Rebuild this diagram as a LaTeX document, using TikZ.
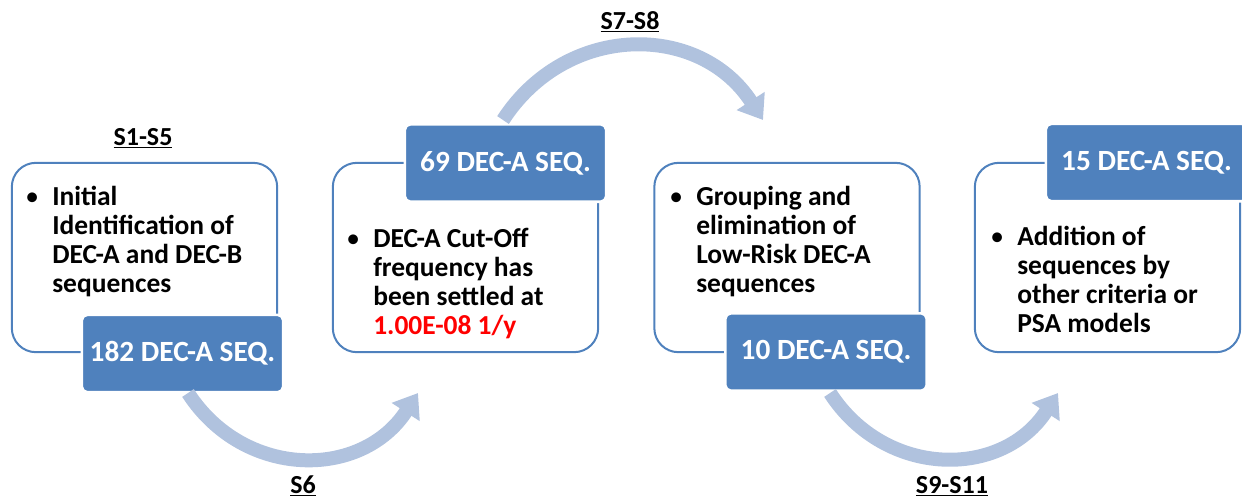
\documentclass[tikz,border=0pt]{standalone}
\usepackage{fontspec}
\setmainfont{Carlito}
\usetikzlibrary{arrows.meta}
\definecolor{stepblue}{RGB}{79,129,189}
\definecolor{arcblue}{RGB}{176,194,222}
\definecolor{valred}{RGB}{255,0,0}
\newcommand{\bul}{\makebox[0pt][r]{\mdseries\textbullet\hspace{10pt}}}
\tikzset{
  frame/.style={draw=stepblue, line width=1.5pt, rounded corners=18pt,
    minimum width=199pt, minimum height=142pt, inner sep=0pt},
  count/.style={fill=stepblue, draw=white, line width=2pt, rounded corners=4pt,
    minimum width=151pt, minimum height=58pt, inner sep=0pt, text=white,
    font=\fontsize{22}{26}\selectfont\bfseries},
  bodytext/.style={anchor=north west, align=left, inner sep=0pt,
    font=\fontsize{20.6}{21.75}\selectfont\bfseries},
  heading/.style={anchor=base, inner sep=0pt, font=\fontsize{19.5}{22}\selectfont\bfseries},
  flow/.style={draw=arcblue, line width=10.5pt, -{Triangle[width=24pt, length=17pt]}}
}
\begin{document}
\begin{tikzpicture}[x=0.75pt, y=-0.75pt]
\clip (0,0) rectangle (1242,501);
% outline boxes
\node[frame] (f1) at (144.5,257.5) {};
\node[frame] (f2) at (465.5,257.5) {};
\node[frame] (f3) at (787,257.5) {};
\node[frame] (f4) at (1107.5,257.5) {};
% counts
\node[count] (c1) at (182.5,353.5) {182 DEC-A SEQ.};
\node[count] (c2) at (505.5,163) {69 DEC-A SEQ.};
\node[count] (c3) at (826,352) {10 DEC-A SEQ.};
\node[count] (c4) at (1146.5,162.5) {15 DEC-A SEQ.};
% texts
\node[bodytext] (t1) at (52,186) {\bul Initial\\Identification of\\DEC-A and DEC-B\\sequences};
\node[bodytext] (t2) at (373,228) {\bul DEC-A Cut-Off\\frequency has\\been settled at\\{\color{valred}1.00E-08 1/y}};
\node[bodytext] (t3) at (696,186) {\bul Grouping and\\elimination of\\Low-Risk DEC-A\\sequences};
\node[bodytext] (t4) at (1017,226) {\bul Addition of\\sequences by\\other criteria or\\PSA models};
% step labels
\node[heading] (h1) at (143,145) {\underline{S1-S5}};
\node[heading] (h2) at (303,493) {\underline{S6}};
\node[heading] (h3) at (630,29) {\underline{S7-S8}};
\node[heading] (h4) at (952,493) {\underline{S9-S11}};
% arrows
\coordinate (a1s) at (188,393);
\coordinate (a1e) at (418,393);
\coordinate (a2s) at (503,120);
\coordinate (a2e) at (763,120);
\coordinate (a3s) at (830,393);
\coordinate (a3e) at (1058,393);
\draw[flow] (a1s) to[bend right=57, looseness=1.15] (a1e);
\draw[flow] (a2s) to[bend left=57, looseness=1.15] (a2e);
\draw[flow] (a3s) to[bend right=57, looseness=1.15] (a3e);
\end{tikzpicture}
\end{document}
